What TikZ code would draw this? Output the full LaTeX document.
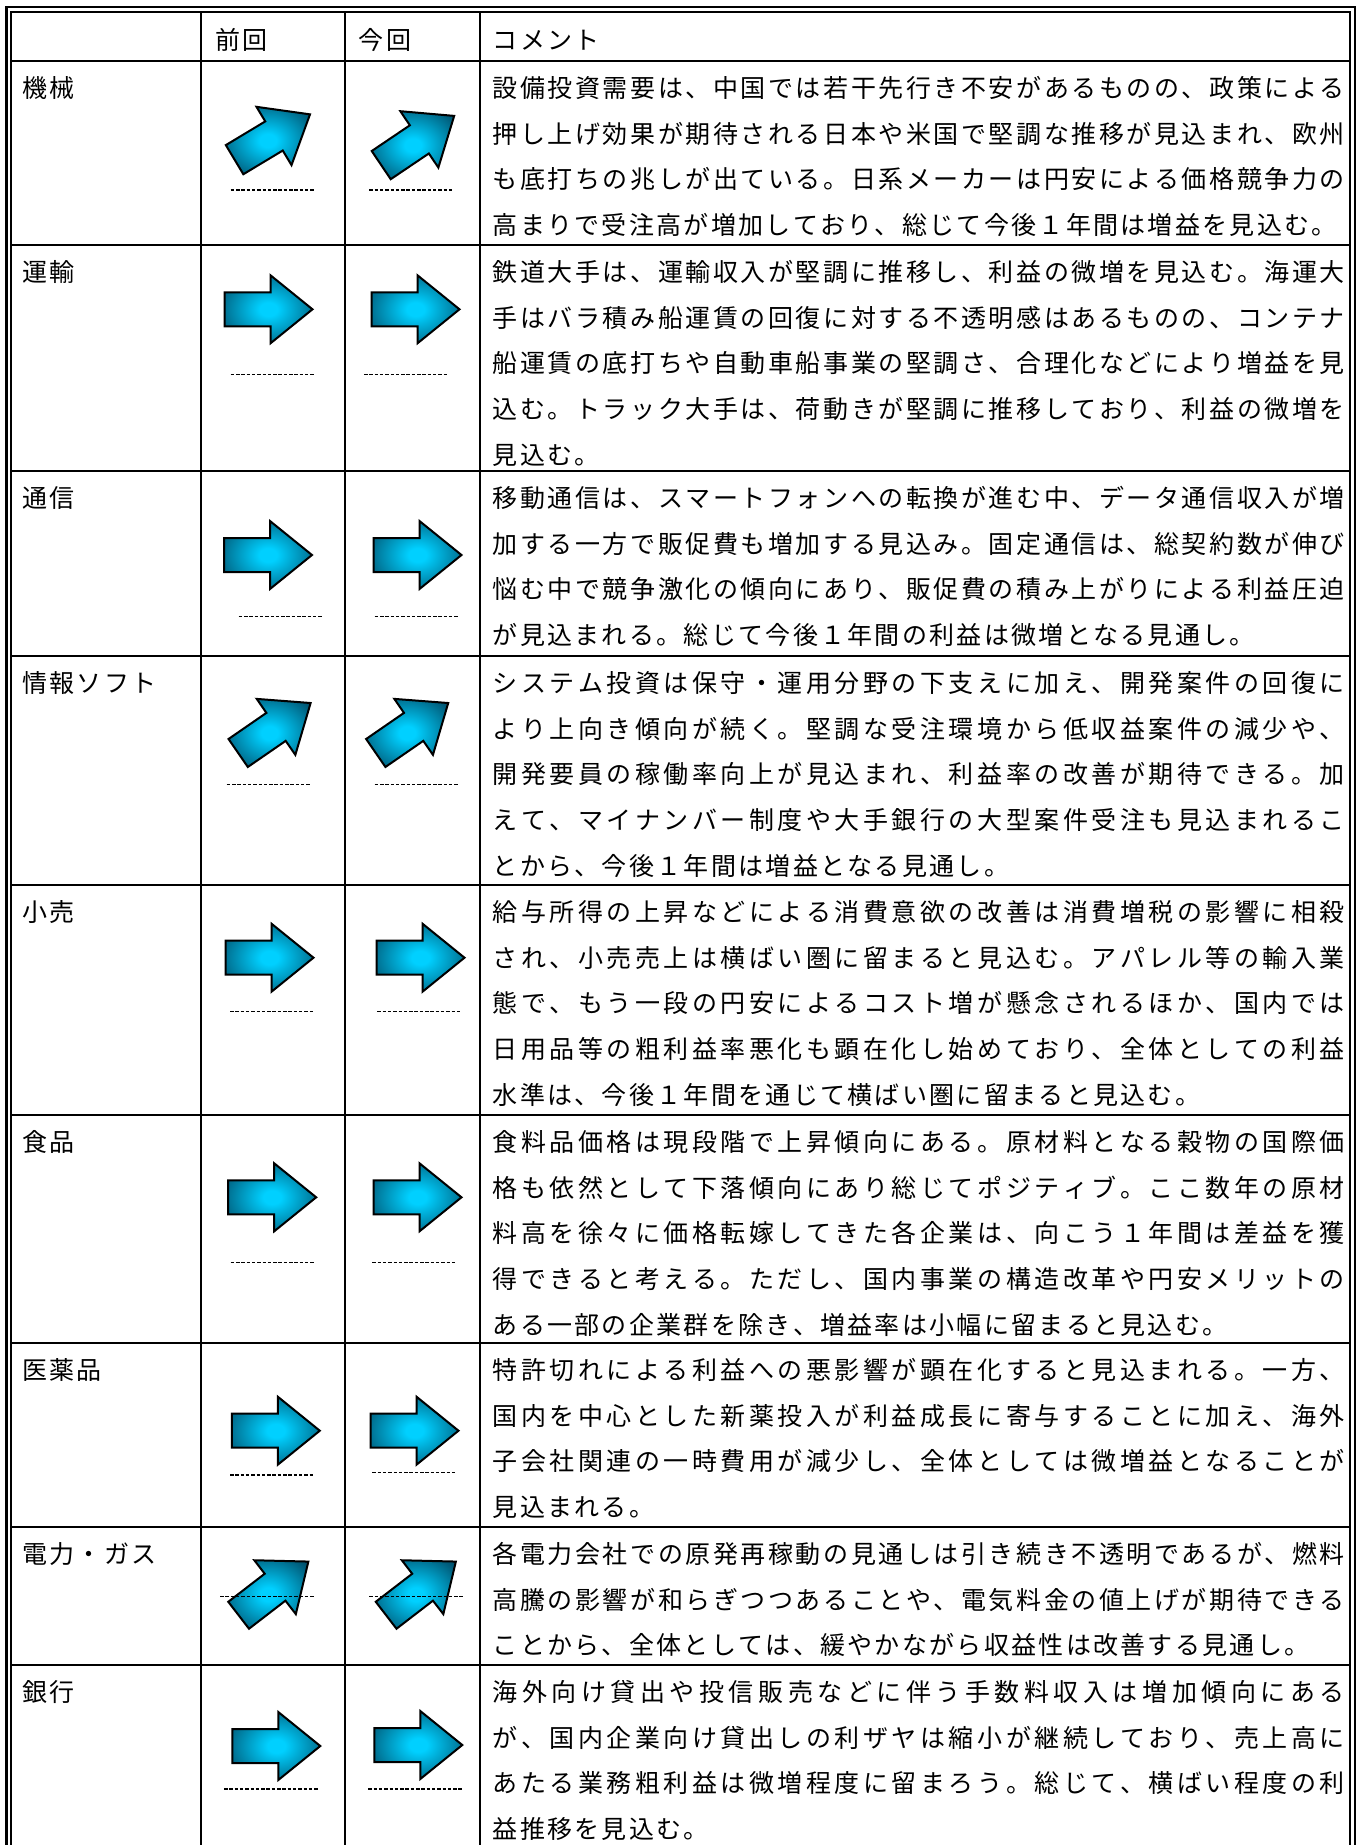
\documentclass[tikz,border=0pt]{standalone}
\usepackage{fontspec}
\setmainfont{Noto Sans CJK JP}
\usetikzlibrary{positioning}
\definecolor{arrowlight}{RGB}{0,208,255}
\definecolor{arrowdark}{RGB}{0,78,106}
\pgfdeclareradialshading{arrowglow}{\pgfpoint{0bp}{0bp}}{color(0bp)=(arrowlight); color(5bp)=(arrowlight); color(33bp)=(arrowdark); color(50bp)=(arrowdark)}

% comment column: full width and gap between characters
\newlength\cmtw \setlength\cmtw{852pt}
\newlength\cmtg \setlength\cmtg{2.3pt}
\makeatletter
% justified line / natural line / stacked lines
\newcommand\jf[1]{\hbox to \cmtw{\@tfor\jch:=#1\do{\jch\hfil}\unskip}}
\newcommand\jn[1]{\hbox{\@tfor\jch:=#1\do{\jch\hskip\cmtg}\unskip}}
\makeatother
\newcommand\para[1]{\vtop{\baselineskip=45.7pt\lineskiplimit=-100pt\lineskip=0pt #1}}

\begin{document}
\begin{tikzpicture}[x=1pt, y=-1pt,
    cell/.style={anchor=base west, inner sep=0pt, font=\fontsize{25}{45.7}\selectfont},
    tablerule/.style={line width=2.4pt},
    outerframe/.style={line width=2.3pt},
    dashline/.style={line width=1.2pt, dash pattern=on 3.5pt off 1.8pt, black},
    arrowbody/.style={draw=black, line width=2pt, line join=miter, shading=arrowglow},
    trend/.pic={\path[arrowbody] (-44,-17) -- (2,-17) -- (2,-34) -- (44,0) -- (2,34) -- (2,17) -- (-44,17) -- cycle;}
]
    \useasboundingbox (0,0) rectangle (1362,1845);
    \clip (0,0) rectangle (1362,1845);

    % Double outer frame
    \draw[outerframe] (6.5,7) rectangle (1355.3,1900);
    \draw[outerframe] (11.2,11.8) rectangle (1350,1900);

    % Grid
    \foreach \cx in {201,345,480} \draw[tablerule] (\cx,11.8) -- (\cx,1900);
    \foreach \ry in {61,245,471,656,885,1115,1343,1527,1665} \draw[tablerule] (11.2,\ry) -- (1350,\ry);

    % Header
    \node[cell] (hprev) at (215,49) {\jn{前回}};
    \node[cell] (hcurr) at (358.5,49) {\jn{今回}};
    \node[cell] (hcmt) at (492.5,49) {\jn{コメント}};

    % 機械
    \node[cell] (lab1) at (22,97.5) {\jn{機械}};
    \pic[rotate=31] (prev1) at (272.3,137) {trend};
    \pic[rotate=34] (curr1) at (417.7,140.5) {trend};
    \draw[dashline] (230.7,190) -- (315,190);
    \draw[dashline] (369.3,190) -- (454,190);
    \node[cell] (cmt1) at (492.5,97.5) {\para{%
        \jf{設備投資需要は、中国では若干先行き不安があるものの、政策による}
        \jf{押し上げ効果が期待される日本や米国で堅調な推移が見込まれ、欧州}
        \jf{も底打ちの兆しが出ている。日系メーカーは円安による価格競争力の}
        \jn{高まりで受注高が増加しており、総じて今後１年間は増益を見込む。}}};

    % 運輸
    \node[cell] (lab2) at (22,281.5) {\jn{運輸}};
    \pic (prev2) at (268.5,309.3) {trend};
    \pic (curr2) at (415.5,309.3) {trend};
    \draw[dashline] (230.7,374.7) -- (315,374.7);
    \draw[dashline] (364,374.7) -- (448.3,374.7);
    \node[cell] (cmt2) at (492.5,281.5) {\para{%
        \jf{鉄道大手は、運輸収入が堅調に推移し、利益の微増を見込む。海運大}
        \jf{手はバラ積み船運賃の回復に対する不透明感はあるものの、コンテナ}
        \jf{船運賃の底打ちや自動車船事業の堅調さ、合理化などにより増益を見}
        \jf{込む。トラック大手は、荷動きが堅調に推移しており、利益の微増を}
        \jn{見込む。}}};

    % 通信
    \node[cell] (lab3) at (22,507.5) {\jn{通信}};
    \pic (prev3) at (268,555) {trend};
    \pic (curr3) at (417.5,555) {trend};
    \draw[dashline] (238.7,616.7) -- (323.3,616.7);
    \draw[dashline] (374.7,616.7) -- (459,616.7);
    \node[cell] (cmt3) at (492.5,507.5) {\para{%
        \jf{移動通信は、スマートフォンへの転換が進む中、データ通信収入が増}
        \jf{加する一方で販促費も増加する見込み。固定通信は、総契約数が伸び}
        \jf{悩む中で競争激化の傾向にあり、販促費の積み上がりによる利益圧迫}
        \jn{が見込まれる。総じて今後１年間の利益は微増となる見通し。}}};

    % 情報ソフト
    \node[cell] (lab4) at (22,692.5) {\jn{情報ソフト}};
    \pic[rotate=34.6] (prev4) at (274.4,728) {trend};
    \pic[rotate=34.6] (curr4) at (412,728) {trend};
    \draw[dashline] (226.7,784.3) -- (311,784.3);
    \draw[dashline] (374.7,784.3) -- (459,784.3);
    \node[cell] (cmt4) at (492.5,692.5) {\para{%
        \jf{システム投資は保守・運用分野の下支えに加え、開発案件の回復に}
        \jf{より上向き傾向が続く。堅調な受注環境から低収益案件の減少や、}
        \jf{開発要員の稼働率向上が見込まれ、利益率の改善が期待できる。加}
        \jf{えて、マイナンバー制度や大手銀行の大型案件受注も見込まれるこ}
        \jn{とから、今後１年間は増益となる見通し。}}};

    % 小売
    \node[cell] (lab5) at (22,921.5) {\jn{小売}};
    \pic (prev5) at (269.5,957.7) {trend};
    \pic (curr5) at (420.5,957.7) {trend};
    \draw[dashline] (230,1011.7) -- (314.3,1011.7);
    \draw[dashline] (377.3,1011.7) -- (461.7,1011.7);
    \node[cell] (cmt5) at (492.5,921.5) {\para{%
        \jf{給与所得の上昇などによる消費意欲の改善は消費増税の影響に相殺}
        \jf{され、小売売上は横ばい圏に留まると見込む。アパレル等の輸入業}
        \jf{態で、もう一段の円安によるコスト増が懸念されるほか、国内では}
        \jf{日用品等の粗利益率悪化も顕在化し始めており、全体としての利益}
        \jn{水準は、今後１年間を通じて横ばい圏に留まると見込む。}}};

    % 食品
    \node[cell] (lab6) at (22,1151.5) {\jn{食品}};
    \pic (prev6) at (272.2,1197.3) {trend};
    \pic (curr6) at (417.5,1197.3) {trend};
    \draw[dashline] (230.7,1262.3) -- (315,1262.3);
    \draw[dashline] (372.3,1262.3) -- (456.3,1262.3);
    \node[cell] (cmt6) at (492.5,1151.5) {\para{%
        \jf{食料品価格は現段階で上昇傾向にある。原材料となる穀物の国際価}
        \jf{格も依然として下落傾向にあり総じてポジティブ。ここ数年の原材}
        \jf{料高を徐々に価格転嫁してきた各企業は、向こう１年間は差益を獲}
        \jf{得できると考える。ただし、国内事業の構造改革や円安メリットの}
        \jn{ある一部の企業群を除き、増益率は小幅に留まると見込む。}}};

    % 医薬品
    \node[cell] (lab7) at (22,1379.5) {\jn{医薬品}};
    \pic (prev7) at (275.8,1430.7) {trend};
    \pic (curr7) at (414.5,1430.7) {trend};
    \draw[dashline] (230,1475) -- (314,1475);
    \draw[dashline] (372.3,1472.7) -- (456,1472.7);
    \node[cell] (cmt7) at (492.5,1379.5) {\para{%
        \jf{特許切れによる利益への悪影響が顕在化すると見込まれる。一方、}
        \jf{国内を中心とした新薬投入が利益成長に寄与することに加え、海外}
        \jf{子会社関連の一時費用が減少し、全体としては微増益となることが}
        \jn{見込まれる。}}};

    % 電力・ガス
    \node[cell] (lab8) at (22,1563.5) {\jn{電力・ガス}};
    \pic[rotate=37.6] (prev8) at (273.5,1588.4) {trend};
    \pic[rotate=37.6] (curr8) at (421,1588.4) {trend};
    \draw[dashline] (220,1596.3) -- (315,1596.3);
    \draw[dashline] (369.3,1596.3) -- (464,1596.3);
    \node[cell] (cmt8) at (492.5,1563.5) {\para{%
        \jf{各電力会社での原発再稼動の見通しは引き続き不透明であるが、燃料}
        \jf{高騰の影響が和らぎつつあることや、電気料金の値上げが期待できる}
        \jn{ことから、全体としては、緩やかながら収益性は改善する見通し。}}};

    % 銀行
    \node[cell] (lab9) at (22,1701.5) {\jn{銀行}};
    \pic (prev9) at (276.3,1746) {trend};
    \pic (curr9) at (418.3,1745) {trend};
    \draw[dashline] (224,1789) -- (318.3,1789);
    \draw[dashline] (368.3,1789) -- (462.7,1789);
    \node[cell] (cmt9) at (492.5,1701.5) {\para{%
        \jf{海外向け貸出や投信販売などに伴う手数料収入は増加傾向にある}
        \jf{が、国内企業向け貸出しの利ザヤは縮小が継続しており、売上高に}
        \jf{あたる業務粗利益は微増程度に留まろう。総じて、横ばい程度の利}
        \jn{益推移を見込む。}}};
\end{tikzpicture}
\end{document}
